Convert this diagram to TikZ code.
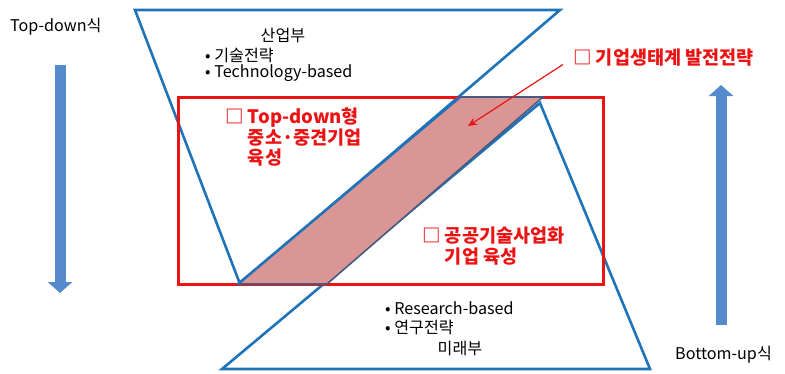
\documentclass[tikz,border=0pt]{standalone}
\usepackage{fontspec}
\setmainfont{Noto Sans CJK KR}
\usetikzlibrary{arrows.meta}

\definecolor{triblue}{RGB}{31,115,185}
\definecolor{arrowblue}{RGB}{85,138,205}
\definecolor{boxred}{RGB}{235,20,20}
\definecolor{bandfill}{RGB}{217,150,148}
\definecolor{bandline}{RGB}{70,90,130}

\begin{document}
\begin{tikzpicture}[x=1bp,y=-1bp,
		tri/.style={draw=triblue, line width=2.6bp, line join=miter},
		txt/.style={font=\fontsize{16.2}{19}\selectfont, inner sep=0pt},
		redtxt/.style={font=\fontsize{18.6}{20.5}\selectfont\bfseries, text=boxred, inner sep=0pt, align=left},
		bigarrow/.style={draw=arrowblue, line width=11bp, -{Triangle[width=24bp,length=11bp]}}]
		\useasboundingbox (0,0) rectangle (785,373);
		
		% the two triangles
		\draw[tri] (135,10) -- (560,10) -- (240,284) -- cycle;
		\draw[tri] (222,369) -- (650,369) -- (540,103) -- cycle;
		
		% red frame
		\draw[boxred, line width=3bp] (178,97) rectangle (603,284);
		
		% band between them
		\filldraw[fill=bandfill, draw=bandline, line width=1.6bp] (238,284) -- (327,284) -- (543,97) -- (460,97) -- cycle;
		\draw[tri] (238,284) -- (460,97);
		
		% side arrows
		\coordinate (downstart) at (60,65);
		\coordinate (downend) at (60,293);
		\coordinate (upstart) at (721,325);
		\coordinate (upend) at (721,85);
		\draw[bigarrow] (downstart) -- (downend);
		\draw[bigarrow] (upstart) -- (upend);
		\node[txt, anchor=west] (topdown) at (10,27) {Top-down식};
		\node[txt, anchor=west] (bottomup) at (675,355) {Bottom-up식};
		
		% upper triangle text
		\node[txt] (sanup) at (283,35) {산업부};
		\node[txt, anchor=west] (gisul) at (205,55) {• 기술전략};
		\node[txt, anchor=west] (techbased) at (205,73) {• Technology-based};
		
		% lower triangle text
		\node[txt, anchor=west] (research) at (385,308) {• Research-based};
		\node[txt, anchor=west] (yeongu) at (385,327) {• 연구전략};
		\node[txt] (mirae) at (460,348) {미래부};
		
		% red labels
		\node[redtxt, anchor=north west] (smes) at (225,108) {□ Top-down형\\\phantom{□ }중소·중견기업\\\phantom{□ }육성};
		\node[redtxt, anchor=north west] (public) at (422,227) {□ 공공기술사업화\\\phantom{□ }기업 육성};
		\node[redtxt, anchor=west] (eco) at (573,58) {□ 기업생태계 발전전략};
		\coordinate (ecotip) at (468,126);
		\draw[boxred, line width=1.2bp, -{Stealth[length=9bp,width=8bp]}, shorten <=12bp] (eco.west) -- (ecotip);
\end{tikzpicture}
\end{document}
